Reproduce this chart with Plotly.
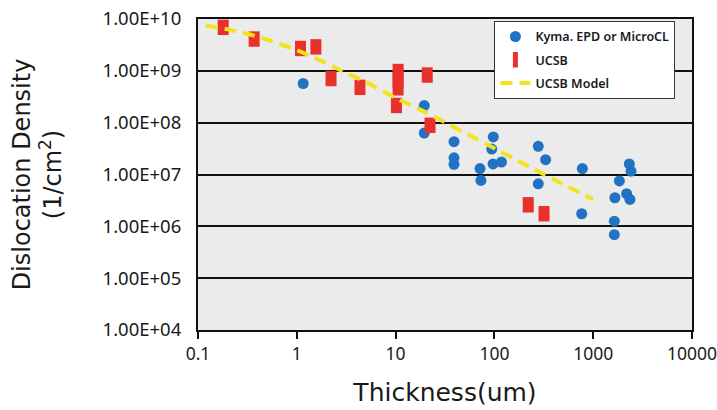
import plotly.graph_objects as go

# Kyma. EPD or MicroCL (blue circles)
kyma_thickness = [1.16, 19.5, 19.5, 39, 39, 39, 71.5, 73, 97.5, 94, 97, 118,
                  278, 330, 278, 777, 765, 1840, 1660, 1636, 1636, 2320, 2415, 2180, 2355]
kyma_density = [5.7e8, 2.14e8, 6.3e7, 4.3e7, 2.1e7, 1.57e7, 1.3e7, 7.7e6, 5.3e7, 3.1e7, 1.6e7, 1.74e7,
                3.5e7, 1.93e7, 6.6e6, 1.3e7, 1.75e6, 7.5e6, 3.56e6, 1.26e6, 6.9e5, 1.6e7, 1.16e7, 4.25e6, 3.3e6]

# UCSB measurements (red squares)
ucsb_thickness = [0.18, 0.37, 1.09, 1.56, 2.22, 4.36, 10.6, 10.6, 10.6, 10.2, 20.9, 22.3, 220, 318]
ucsb_density = [6.9e9, 4.1e9, 2.7e9, 2.9e9, 7.1e8, 4.8e8, 9.7e8, 6.8e8, 4.7e8, 2.15e8, 8.3e8, 8.9e7, 2.6e6, 1.75e6]

# UCSB Model (yellow dashed line)
model_thickness = [0.12, 0.2, 0.3, 0.5, 1, 2, 3, 5, 10, 20, 40, 100, 200, 400, 1000]
model_density = [7.5e9, 6.3e9, 5.3e9, 4.0e9, 2.5e9, 1.4e9, 9.5e8, 6.1e8, 3.0e8, 1.6e8, 8e7, 3.2e7, 1.6e7, 8e6, 3.3e6]

y_tickvals = [1e4, 1e5, 1e6, 1e7, 1e8, 1e9, 1e10]
y_ticktext = ["1.00E+04", "1.00E+05", "1.00E+06", "1.00E+07", "1.00E+08", "1.00E+09", "1.00E+10"]
x_tickvals = [0.1, 1, 10, 100, 1000, 10000]
x_ticktext = ["0.1", "1", "10", "100", "1000", "10000"]

TICK_FONT = "Noto Sans, Open Sans, sans-serif"
TITLE_FONT = "DejaVu Sans, Noto Sans, sans-serif"

fig = go.Figure()
fig.add_trace(go.Scatter(
    x=kyma_thickness, y=kyma_density, mode="markers", name="Kyma. EPD or MicroCL",
    legendgroup="g1",
    marker=dict(symbol="circle", size=11, color="#2272c3"),
))
fig.add_trace(go.Scatter(
    x=ucsb_thickness, y=ucsb_density, mode="markers", name="UCSB",
    legendgroup="g2",
    marker=dict(symbol="line-ns", size=11, color="#e8312a",
                line=dict(width=11, color="#e8312a")),
))
fig.add_trace(go.Scatter(
    x=model_thickness, y=model_density, mode="lines", name="UCSB Model",
    legendgroup="g3",
    line=dict(color="#f2e41c", width=4, dash="12px,7px", shape="spline"),
))

fig.update_layout(
    width=717, height=410,
    margin=dict(l=198, r=25, t=19, b=80),
    paper_bgcolor="white",
    plot_bgcolor="#ebebeb",
    font=dict(family=TICK_FONT, color="#1a1a1a"),
    showlegend=True,
    legend=dict(
        x=0.6, y=0.994, xanchor="left", yanchor="top",
        bgcolor="white", bordercolor="#333", borderwidth=1,
        font=dict(size=12.5, color="#1a1a1a", weight=600),
        tracegroupgap=4,
    ),
)
fig.update_xaxes(
    type="log", range=[-1, 4], automargin=False,
    tickvals=x_tickvals, ticktext=x_ticktext,
    tickfont=dict(size=17.5, color="#1a1a1a"),
    ticklabeloverflow="allow",
    ticks="outside", ticklen=7, tickwidth=2, tickcolor="#111",
    showgrid=False, zeroline=False,
    showline=True, linecolor="#111", linewidth=2, mirror=True,
    title=dict(text="Thickness(um)", font=dict(family=TITLE_FONT, size=25, color="#1a1a1a"), standoff=19),
)
fig.update_yaxes(
    type="log", range=[4, 10], automargin=False,
    tickvals=y_tickvals, ticktext=y_ticktext,
    tickfont=dict(size=18.5, color="#1a1a1a"),
    ticklabeloverflow="allow",
    ticks="", ticklabelstandoff=11,
    showgrid=True, gridcolor="#111", gridwidth=1.5, zeroline=False,
    showline=True, linecolor="#111", linewidth=2, mirror=True,
    title=dict(text="Dislocation Density<br>(1/cm<sup>2</sup>)", font=dict(family=TITLE_FONT, size=24, color="#1a1a1a"), standoff=34),
)

fig.write_html("out.html", config={"displayModeBar": False},
               post_script="document.body.style.margin='0';")
